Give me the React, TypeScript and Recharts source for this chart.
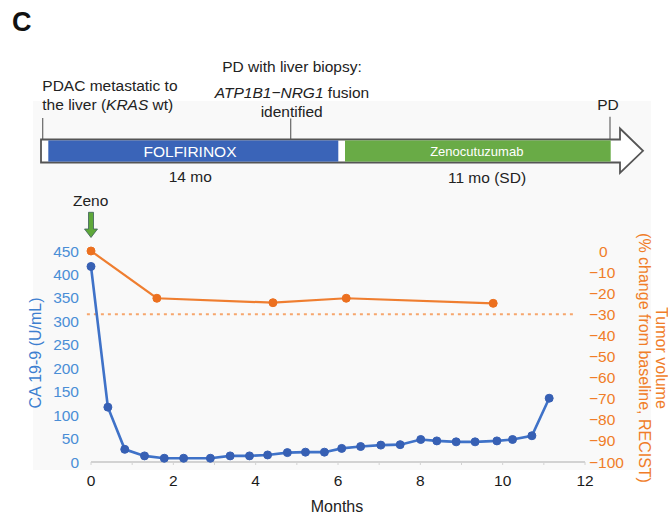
import React from 'react';
import { LineChart, Line, XAxis, YAxis, ReferenceLine } from 'recharts';

// ---- Data ----
const caMonths = [0, 0.41, 0.82, 1.3, 1.78, 2.25, 2.9, 3.38, 3.85, 4.29, 4.77, 5.21, 5.67, 6.09, 6.55, 7.04, 7.51, 8.01, 8.4, 8.87, 9.33, 9.86, 10.24, 10.71, 11.13];
const caValues = [417, 117, 27, 13, 8, 8, 8, 13, 13, 15, 20, 21, 21, 29, 33, 36, 37, 48, 45, 43, 43, 45, 48, 56, 136];
const tumorMonths = [0, 1.6, 4.42, 6.2, 9.77];
const tumorValues = [0, -22.4, -24.5, -22.4, -24.8];
const monthTicks = [0, 1, 2, 3, 4, 5, 6, 7, 8, 9, 10, 11, 12];
const caTicks = [0, 50, 100, 150, 200, 250, 300, 350, 400, 450];
const tumorTicks = [-100, -90, -80, -70, -60, -50, -40, -30, -20, -10, 0];
const recistThreshold = -30;

const caData = caMonths.map((m, i) => ({ month: m, ca: caValues[i] }));
const tumorData = tumorMonths.map((m, i) => ({ month: m, tumor: tumorValues[i] }));

const FONT = '"Liberation Sans", Arial, Helvetica, sans-serif';
const BLUE_LINE = '#3f72c8';
const BLUE_DOT = '#3760b4';
const BLUE_TEXT = '#4a8ed6';
const ORANGE_LINE = '#ef7e30';
const ORANGE_DOT = '#ec701f';
const ORANGE_TEXT = '#f07d28';
const DASH = '#f6a66d';

const RightTick = (props: any) => {
  const { x, y, payload } = props;
  const v = payload.value as number;
  const label = v < 0 ? '\u2212' + Math.abs(v) : String(v);
  return (
    <text x={v < 0 ? x : x + 10} y={y} dy="0.355em" textAnchor="start" fill={ORANGE_TEXT} fontSize={15.5} fontFamily={FONT}>
      {label}
    </text>
  );
};

const Timeline = () => (
  <svg width={668} height={518} style={{ position: 'absolute', left: 0, top: 0 }} fontFamily={FONT}>
    <rect x={33} y={101} width={618} height={369} fill="#f9f9f9" />
    <text x={12} y={31} fontSize={27} fontWeight="bold" fill="#111">C</text>

    {/* annotations */}
    <text x={42.3} y={90.7} fontSize={15.5} fill="#222">PDAC metastatic to</text>
    <text x={42.3} y={109.5} fontSize={15.5} fill="#222">
      the liver (<tspan fontStyle="italic">KRAS</tspan> wt)
    </text>
    <line x1={42.7} y1={118} x2={42.7} y2={139.5} stroke="#666" strokeWidth={1.2} />

    <text x={292} y={71.7} fontSize={15.5} fill="#222" textAnchor="middle">PD with liver biopsy:</text>
    <text x={292} y={98.3} fontSize={15.5} fill="#222" textAnchor="middle">
      <tspan fontStyle="italic">ATP1B1{'\u2212'}NRG1</tspan> fusion
    </text>
    <text x={291.7} y={116.7} fontSize={15.5} fill="#222" textAnchor="middle">identified</text>
    <line x1={290.7} y1={118.5} x2={290.7} y2={139.5} stroke="#666" strokeWidth={1.2} />

    <text x={608} y={110} fontSize={15.5} fill="#222" textAnchor="middle">PD</text>
    <line x1={610} y1={116.7} x2={610} y2={139.5} stroke="#666" strokeWidth={1.2} />

    {/* bar + arrow */}
    <polygon
      points="41,139.5 620,139.5 620,128.5 643,150.8 620,172.8 620,162.5 41,162.5"
      fill="#ffffff"
      stroke="#555"
      strokeWidth={1.8}
      strokeLinejoin="miter"
    />
    <rect x={48.3} y={140.4} width={290} height={21.2} fill="#3a64b8" />
    <rect x={345} y={140.4} width={265.7} height={21.2} fill="#69ab46" />
    <text x={190} y={156.7} fontSize={15.5} fill="#ffffff" textAnchor="middle">FOLFIRINOX</text>
    <text x={476.8} y={156} fontSize={13} fill="#ffffff" textAnchor="middle">Zenocutuzumab</text>

    <text x={190.3} y={182.3} fontSize={15.5} fill="#222" textAnchor="middle">14 mo</text>
    <text x={487} y={182.7} fontSize={15.5} fill="#222" textAnchor="middle">11 mo (SD)</text>

    <text x={90.7} y={206} fontSize={15.5} fill="#222" textAnchor="middle">Zeno</text>
    <polygon
      points="88.5,212.3 93.5,212.3 93.5,229 97.5,229 91,237.5 84.5,229 88.5,229"
      fill="#5ea83a"
      stroke="#3c5e5a"
      strokeWidth={0.8}
    />

    {/* axis titles */}
    <text
      x={35}
      y={353}
      fontSize={16}
      fill="#3d7fd0"
      textAnchor="middle"
      dominantBaseline="central"
      transform="rotate(-90 35 353)"
    >
      CA 19-9 (U/mL)
    </text>
    <text
      x={661}
      y={358}
      fontSize={16}
      fill={ORANGE_TEXT}
      textAnchor="middle"
      dominantBaseline="central"
      transform="rotate(90 661 358)"
    >
      Tumor volume
    </text>
    <text
      x={644}
      y={358}
      fontSize={16}
      fill={ORANGE_TEXT}
      textAnchor="middle"
      dominantBaseline="central"
      transform="rotate(90 644 358)"
    >
      (% change from baseline, RECIST)
    </text>
    <text x={337} y={511.5} fontSize={16} fill="#222" textAnchor="middle">Months</text>
  </svg>
);

export default function App() {
  return (
    <div style={{ position: 'absolute', left: 0, top: 0, width: 668, height: 518, background: '#ffffff', overflow: 'hidden' }}>
      <Timeline />
      <div style={{ position: 'absolute', left: 0, top: 0 }}>
        <LineChart width={668} height={518} margin={{ top: 251, left: 31, right: 23, bottom: 26 }}>
          <XAxis
            type="number"
            dataKey="month"
            domain={[0, 12]}
            ticks={monthTicks}
            interval={0}
            allowDuplicatedCategory={false}
            tickFormatter={(v: number) => (v % 2 === 0 ? String(v) : '')}
            height={30}
            axisLine={{ stroke: '#d2d2d2', strokeWidth: 2 }}
            tickLine={{ stroke: '#d2d2d2' }}
            tickSize={3}
            tickMargin={10}
            tick={{ fill: '#1a1a1a', fontSize: 15.5, fontFamily: FONT }}
          />
          <YAxis
            yAxisId="left"
            orientation="left"
            domain={[0, 450]}
            ticks={caTicks}
            interval={0}
            width={60}
            axisLine={false}
            tickLine={false}
            tickSize={0}
            tickMargin={12}
            tick={{ fill: BLUE_TEXT, fontSize: 15.5, fontFamily: FONT }}
          />
          <YAxis
            yAxisId="right"
            orientation="right"
            domain={[-100, 0]}
            ticks={tumorTicks}
            interval={0}
            width={60}
            axisLine={false}
            tickLine={false}
            tickSize={0}
            tickMargin={4}
            tick={<RightTick />}
          />
          <ReferenceLine
            yAxisId="right"
            segment={[
              { x: -0.1, y: recistThreshold },
              { x: 11.8, y: recistThreshold },
            ]}
            stroke={DASH}
            strokeWidth={2}
            strokeDasharray="3 4"
            ifOverflow="visible"
          />
          <Line
            yAxisId="right"
            data={tumorData}
            dataKey="tumor"
            type="linear"
            stroke={ORANGE_LINE}
            strokeWidth={2.2}
            dot={{ r: 4, fill: ORANGE_DOT, stroke: ORANGE_DOT, strokeWidth: 1 }}
            activeDot={false}
            isAnimationActive={false}
          />
          <Line
            yAxisId="left"
            data={caData}
            dataKey="ca"
            type="linear"
            stroke={BLUE_LINE}
            strokeWidth={2.6}
            dot={{ r: 4, fill: BLUE_DOT, stroke: BLUE_DOT, strokeWidth: 1 }}
            activeDot={false}
            isAnimationActive={false}
          />
        </LineChart>
      </div>
    </div>
  );
}
